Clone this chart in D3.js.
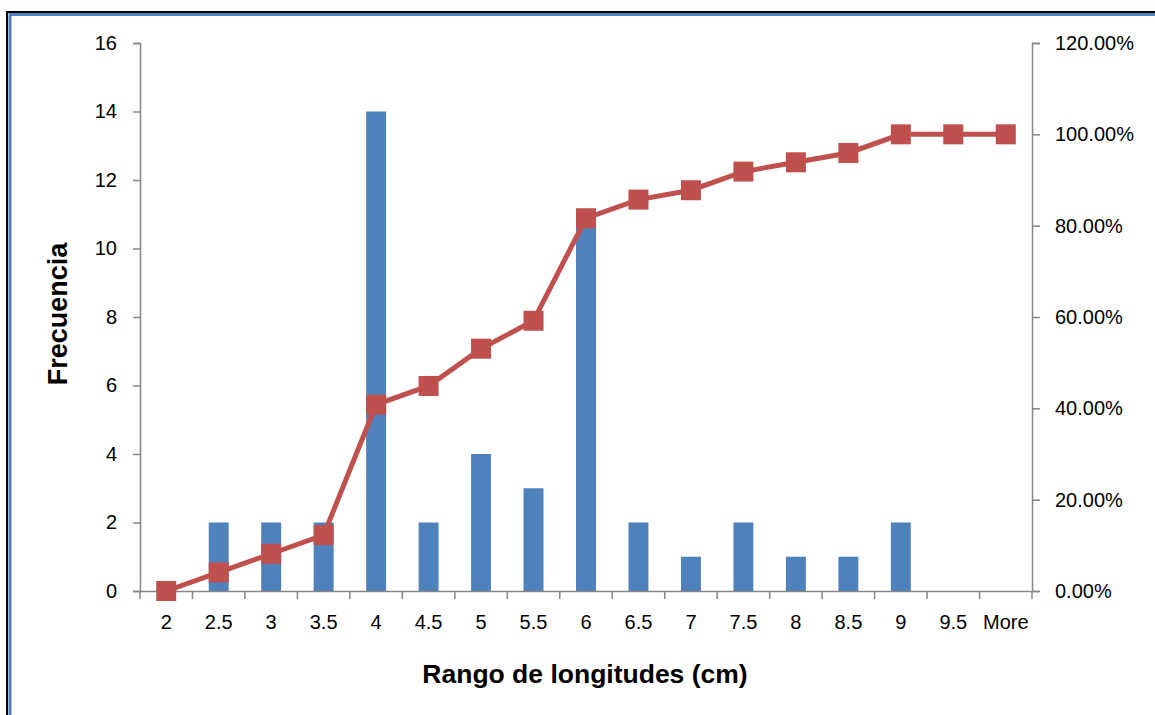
<!DOCTYPE html>
<html>
<head>
<meta charset="utf-8">
<script src="https://cdn.jsdelivr.net/npm/d3@7"></script>
<style>
  body { margin: 0; background: #fff; }
  svg { display: block; font-family: "Liberation Sans", Arial, sans-serif; }
</style>
</head>
<body>
<div id="chart"></div>
<script>
const categories = ['2', '2.5', '3', '3.5', '4', '4.5', '5', '5.5', '6', '6.5', '7', '7.5', '8', '8.5', '9', '9.5', 'More'];
const frequency = [0, 2, 2, 2, 14, 2, 4, 3, 11, 2, 1, 2, 1, 1, 2, 0, 0];
const cumulativePct = [0, 4.08, 8.16, 12.24, 40.82, 44.90, 53.06, 59.18, 81.63, 85.71, 87.76, 91.84, 93.88, 95.92, 100, 100, 100];
const leftTicks = [0, 2, 4, 6, 8, 10, 12, 14, 16];
const rightTicks = [0, 20, 40, 60, 80, 100, 120];

const W = 1155, H = 715;
const margin = { top: 43, right: 123, bottom: 124, left: 140 };
const width = W - margin.left - margin.right;
const height = H - margin.top - margin.bottom;

const svg = d3.select('#chart').append('svg')
    .attr('width', W)
    .attr('height', H);

// outer frame (black + blue)
svg.append('rect')
    .attr('x', 7).attr('y', 12)
    .attr('width', W + 20).attr('height', H + 20)
    .attr('fill', 'none').attr('stroke', '#000').attr('stroke-width', 2);
svg.append('rect')
    .attr('x', 10).attr('y', 14.5)
    .attr('width', W + 20).attr('height', H + 20)
    .attr('fill', 'none').attr('stroke', '#4F81BD').attr('stroke-width', 3);

const g = svg.append('g')
    .attr('transform', `translate(${margin.left},${margin.top})`);

const x = d3.scaleBand()
    .domain(categories)
    .range([0, width])
    .padding(0);

const yLeft = d3.scaleLinear().domain([0, 16]).range([height, 0]);
const yRight = d3.scaleLinear().domain([0, 120]).range([height, 0]);

const axisColor = '#868686';

// bars
const barW = x.bandwidth() * 0.38;
g.selectAll('.bar')
    .data(categories)
    .join('rect')
    .attr('class', 'bar')
    .attr('x', (d, i) => x(d) + (x.bandwidth() - barW) / 2)
    .attr('y', (d, i) => yLeft(frequency[i]))
    .attr('width', barW)
    .attr('height', (d, i) => height - yLeft(frequency[i]))
    .attr('fill', '#4F81BD');

// left axis
const leftAxis = g.append('g')
    .call(d3.axisLeft(yLeft).tickValues(leftTicks).tickSize(7).tickPadding(16));
// right axis
const rightAxis = g.append('g')
    .attr('transform', `translate(${width},0)`)
    .call(d3.axisRight(yRight).tickValues(rightTicks).tickSize(8).tickPadding(15)
        .tickFormat(d => d.toFixed(2) + '%'));
// bottom axis (labels)
const bottomAxis = g.append('g')
    .attr('transform', `translate(0,${height})`)
    .call(d3.axisBottom(x).tickSize(0).tickPadding(24));

// boundary ticks on x axis
const boundaries = categories.map(c => x(c)).concat([width]);
g.append('g')
    .selectAll('line')
    .data(boundaries)
    .join('line')
    .attr('x1', d => d).attr('x2', d => d)
    .attr('y1', height).attr('y2', height + 8)
    .attr('stroke', axisColor).attr('stroke-width', 1.5);

[leftAxis, rightAxis, bottomAxis].forEach(a => {
    a.selectAll('path.domain').attr('stroke', axisColor).attr('stroke-width', 1.5);
    a.selectAll('.tick line').attr('stroke', axisColor).attr('stroke-width', 1.5);
    a.selectAll('text')
        .attr('fill', '#000')
        .style('font-size', '20px')
        .style('font-family', '"Liberation Sans", Arial, sans-serif');
});

// cumulative line
const line = d3.line()
    .x((d, i) => x(categories[i]) + x.bandwidth() / 2)
    .y(d => yRight(d));

g.append('path')
    .datum(cumulativePct)
    .attr('fill', 'none')
    .attr('stroke', '#C0504D')
    .attr('stroke-width', 5)
    .attr('d', line);

const m = 20;
g.selectAll('.marker')
    .data(cumulativePct)
    .join('rect')
    .attr('class', 'marker')
    .attr('x', (d, i) => x(categories[i]) + x.bandwidth() / 2 - m / 2)
    .attr('y', d => yRight(d) - m / 2)
    .attr('width', m)
    .attr('height', m)
    .attr('fill', '#C0504D');

// axis titles
svg.append('text')
    .attr('x', 585)
    .attr('y', 683)
    .attr('text-anchor', 'middle')
    .style('font-size', '26.5px')
    .style('font-weight', 'bold')
    .text('Rango de longitudes (cm)');

svg.append('text')
    .attr('transform', 'translate(67,314) rotate(-90)')
    .attr('text-anchor', 'middle')
    .style('font-size', '27px')
    .style('font-weight', 'bold')
    .text('Frecuencia');
</script>
</body>
</html>
